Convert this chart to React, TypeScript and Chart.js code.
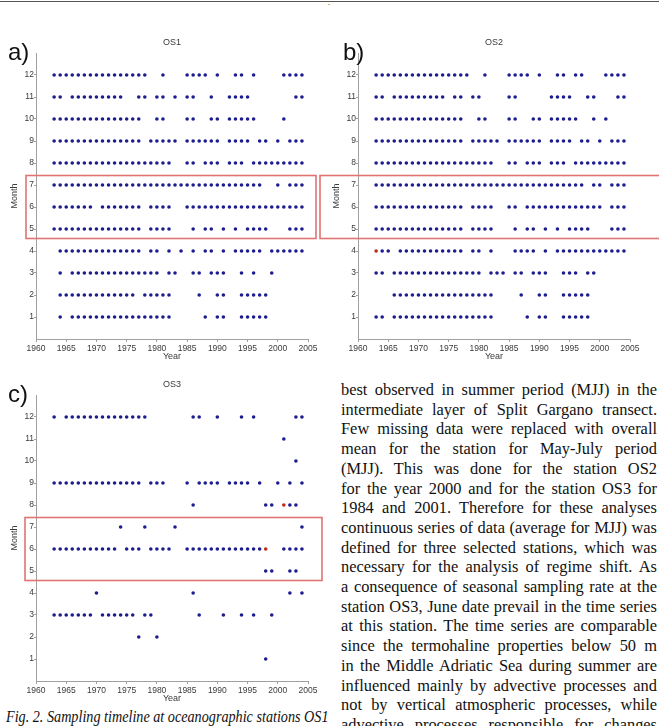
import React, { useEffect, useRef } from 'react';
import { Chart, registerables } from 'chart.js';

Chart.register(...registerables);

// ---- axis ticks ----
const yearTicks = [1960, 1965, 1970, 1975, 1980, 1985, 1990, 1995, 2000, 2005];
const monthTicks = [1, 2, 3, 4, 5, 6, 7, 8, 9, 10, 11, 12];

// ---- OS1: sampled years per month ----
const os1M1 = [1964, 1966, 1967, 1968, 1969, 1970, 1971, 1972, 1973, 1974, 1975, 1976, 1977, 1978, 1979, 1980, 1981, 1982, 1988, 1990, 1991, 1994, 1995, 1996, 1997, 1998];
const os1M2 = [1964, 1965, 1966, 1967, 1968, 1969, 1970, 1971, 1972, 1973, 1974, 1975, 1976, 1978, 1979, 1980, 1981, 1982, 1987, 1990, 1991, 1994, 1995, 1996, 1997, 1998];
const os1M3 = [1964, 1966, 1967, 1968, 1969, 1970, 1971, 1972, 1973, 1974, 1975, 1976, 1977, 1978, 1979, 1980, 1982, 1983, 1986, 1987, 1989, 1990, 1991, 1994, 1996, 1999];
const os1M4 = [1964, 1965, 1966, 1967, 1968, 1969, 1970, 1971, 1972, 1973, 1974, 1975, 1976, 1977, 1979, 1980, 1982, 1984, 1986, 1988, 1989, 1991, 1993, 1994, 1995, 1996, 1997, 1999, 2000, 2001, 2002, 2003, 2004];
const os1M5 = [1963, 1964, 1965, 1966, 1967, 1968, 1969, 1970, 1971, 1972, 1973, 1974, 1975, 1976, 1977, 1979, 1980, 1981, 1982, 1986, 1988, 1989, 1991, 1993, 1995, 1996, 1997, 1998, 2002, 2003, 2004];
const os1M6 = [1963, 1964, 1965, 1966, 1967, 1968, 1969, 1971, 1972, 1973, 1974, 1975, 1976, 1977, 1979, 1980, 1981, 1982, 1985, 1986, 1987, 1988, 1989, 1990, 1991, 1992, 1993, 1994, 1995, 1996, 1997, 1998, 1999, 2000, 2001, 2002, 2003, 2004];
const os1M7 = [1963, 1964, 1965, 1966, 1967, 1968, 1969, 1970, 1971, 1972, 1973, 1974, 1975, 1976, 1977, 1978, 1979, 1980, 1981, 1982, 1983, 1984, 1985, 1986, 1987, 1988, 1989, 1990, 1991, 1992, 1993, 1994, 1995, 1996, 1997, 2000, 2002, 2003, 2004];
const os1M8 = [1963, 1964, 1965, 1966, 1967, 1968, 1969, 1970, 1971, 1972, 1973, 1974, 1975, 1976, 1977, 1978, 1979, 1980, 1981, 1982, 1985, 1986, 1988, 1989, 1990, 1992, 1993, 1994, 1996, 1997, 1998, 1999, 2000, 2001, 2002, 2003, 2004];
const os1M9 = [1963, 1964, 1965, 1966, 1967, 1968, 1969, 1970, 1971, 1972, 1973, 1974, 1975, 1976, 1977, 1979, 1980, 1981, 1982, 1983, 1985, 1986, 1987, 1988, 1989, 1990, 1992, 1993, 1994, 1995, 1997, 1998, 2000, 2002, 2003, 2004];
const os1M10 = [1963, 1964, 1965, 1966, 1967, 1968, 1969, 1970, 1971, 1972, 1973, 1974, 1975, 1976, 1977, 1980, 1981, 1985, 1986, 1989, 1990, 1992, 1993, 1994, 1995, 1996, 2001];
const os1M11 = [1963, 1964, 1966, 1967, 1968, 1969, 1970, 1971, 1972, 1973, 1974, 1977, 1978, 1980, 1981, 1983, 1985, 1986, 1989, 1992, 1993, 1994, 1995, 2003, 2004];
const os1M12 = [1963, 1964, 1965, 1966, 1967, 1968, 1969, 1970, 1971, 1972, 1973, 1974, 1975, 1976, 1977, 1978, 1981, 1985, 1986, 1987, 1988, 1990, 1993, 1994, 1996, 2001, 2002, 2003, 2004];
const os1Red: number[][] = [];

// ---- OS2: sampled years per month ----
const os2M1 = [1963, 1964, 1966, 1967, 1968, 1969, 1970, 1971, 1972, 1973, 1974, 1975, 1976, 1977, 1978, 1979, 1980, 1981, 1982, 1988, 1990, 1991, 1994, 1995, 1996, 1997, 1998];
const os2M2 = [1966, 1967, 1968, 1969, 1970, 1971, 1972, 1973, 1974, 1975, 1976, 1977, 1978, 1979, 1980, 1981, 1982, 1987, 1990, 1991, 1994, 1995, 1996, 1997, 1998];
const os2M3 = [1963, 1964, 1966, 1967, 1968, 1969, 1970, 1971, 1972, 1973, 1974, 1975, 1976, 1977, 1978, 1979, 1980, 1982, 1983, 1984, 1986, 1987, 1989, 1990, 1991, 1994, 1995, 1996, 1998, 1999];
const os2M4 = [1964, 1965, 1967, 1968, 1969, 1970, 1971, 1972, 1973, 1974, 1975, 1976, 1977, 1979, 1980, 1982, 1986, 1987, 1988, 1989, 1991, 1993, 1994, 1995, 1996, 1997, 1998, 1999, 2000, 2001, 2002, 2003, 2004];
const os2M5 = [1963, 1964, 1965, 1966, 1967, 1968, 1969, 1970, 1971, 1972, 1973, 1974, 1975, 1976, 1977, 1979, 1980, 1981, 1982, 1986, 1988, 1989, 1991, 1993, 1995, 1996, 1997, 1998, 2002, 2003, 2004];
const os2M6 = [1963, 1964, 1965, 1966, 1967, 1968, 1969, 1970, 1971, 1972, 1973, 1974, 1975, 1976, 1977, 1979, 1980, 1981, 1982, 1985, 1986, 1988, 1989, 1990, 1991, 1992, 1993, 1994, 1995, 1996, 1997, 1998, 1999, 2000, 2002, 2003, 2004];
const os2M7 = [1963, 1964, 1965, 1966, 1967, 1968, 1969, 1970, 1971, 1972, 1973, 1974, 1975, 1976, 1977, 1978, 1979, 1980, 1981, 1982, 1983, 1984, 1985, 1986, 1987, 1988, 1989, 1990, 1991, 1992, 1993, 1994, 1995, 1996, 1997, 1999, 2000, 2002, 2003, 2004];
const os2M8 = [1963, 1964, 1965, 1966, 1967, 1968, 1969, 1970, 1971, 1972, 1973, 1974, 1975, 1976, 1977, 1978, 1979, 1980, 1981, 1982, 1985, 1986, 1988, 1989, 1990, 1992, 1993, 1994, 1996, 1997, 1998, 1999, 2000, 2001, 2002, 2003, 2004];
const os2M9 = [1963, 1964, 1965, 1966, 1967, 1968, 1969, 1970, 1971, 1972, 1973, 1974, 1975, 1976, 1977, 1979, 1980, 1981, 1982, 1983, 1985, 1986, 1987, 1988, 1989, 1990, 1992, 1993, 1994, 1995, 1997, 1998, 2000, 2002, 2003, 2004];
const os2M10 = [1963, 1964, 1965, 1966, 1967, 1968, 1969, 1970, 1971, 1972, 1973, 1974, 1975, 1976, 1977, 1980, 1981, 1985, 1986, 1989, 1990, 1992, 1993, 1994, 1995, 1996, 1999, 2001];
const os2M11 = [1963, 1964, 1966, 1967, 1968, 1969, 1970, 1971, 1972, 1973, 1974, 1976, 1977, 1979, 1980, 1985, 1986, 1992, 1993, 1994, 1995, 1998, 1999, 2003, 2004];
const os2M12 = [1963, 1964, 1965, 1966, 1967, 1968, 1969, 1970, 1971, 1972, 1973, 1974, 1975, 1976, 1977, 1978, 1981, 1985, 1986, 1987, 1988, 1990, 1993, 1994, 1996, 1997, 2001, 2002, 2003, 2004];
const os2Red = [[1963, 4]];

// ---- OS3: sampled years per month ----
const os3M1 = [1998];
const os3M2 = [1977, 1980];
const os3M3 = [1963, 1964, 1965, 1966, 1967, 1968, 1969, 1971, 1972, 1973, 1974, 1975, 1976, 1978, 1979, 1987, 1991, 1994, 1996, 1999];
const os3M4 = [1970, 1986, 2002, 2004];
const os3M5 = [1998, 1999, 2002, 2003];
const os3M6 = [1963, 1964, 1965, 1966, 1967, 1968, 1969, 1970, 1971, 1972, 1973, 1975, 1976, 1977, 1979, 1980, 1981, 1982, 1985, 1986, 1987, 1988, 1989, 1990, 1991, 1992, 1993, 1994, 1995, 1996, 1997, 2001, 2002, 2003, 2004];
const os3M7 = [1974, 1978, 1983, 2004];
const os3M8 = [1986, 1998, 1999, 2002, 2003];
const os3M9 = [1963, 1964, 1965, 1966, 1967, 1968, 1969, 1970, 1971, 1972, 1973, 1974, 1975, 1976, 1977, 1979, 1980, 1981, 1985, 1987, 1988, 1989, 1990, 1992, 1993, 1994, 1995, 1997, 2000, 2002, 2004];
const os3M10 = [2003];
const os3M11 = [2001];
const os3M12 = [1963, 1965, 1966, 1967, 1968, 1969, 1970, 1971, 1972, 1973, 1974, 1975, 1976, 1977, 1978, 1986, 1987, 1990, 1994, 1996, 2003, 2004];
const os3Red = [[1998, 6], [2001, 8]];

const os1Rows = [os1M1, os1M2, os1M3, os1M4, os1M5, os1M6, os1M7, os1M8, os1M9, os1M10, os1M11, os1M12];
const os2Rows = [os2M1, os2M2, os2M3, os2M4, os2M5, os2M6, os2M7, os2M8, os2M9, os2M10, os2M11, os2M12];
const os3Rows = [os3M1, os3M2, os3M3, os3M4, os3M5, os3M6, os3M7, os3M8, os3M9, os3M10, os3M11, os3M12];

// highlighted May-July band
const bandTop = 7.45;
const bandBottom = 4.6;

const paragraph = [
  'best observed in summer period (MJJ) in the',
  'intermediate layer of Split Gargano transect.',
  'Few missing data were replaced with overall',
  'mean for the station for May-July period',
  '(MJJ). This was done for the station OS2',
  'for the year 2000 and for the station OS3 for',
  '1984 and 2001. Therefore for these analyses',
  'continuous series of data (average for MJJ) was',
  'defined for three selected stations, which was',
  'necessary for the analysis of regime shift. As',
  'a consequence of seasonal sampling rate at the',
  'station OS3, June date prevail in the time series',
  'at this station. The time series are comparable',
  'since the termohaline properties below 50 m',
  'in the Middle Adriatic Sea during summer are',
  'influenced mainly by advective processes and',
  'not by vertical atmospheric processes, while',
  'advective processes responsible for changes',
];
const caption = 'Fig. 2. Sampling timeline at oceanographic stations OS1';

const BLUE = '#1c1c8e';
const RED = '#c0281e';
const AXIS = '#a0a0a0';
const LABEL = '#3a3a3a';
const SANS = 'Liberation Sans, Arial, sans-serif';
const SERIF = '"Liberation Serif", "Times New Roman", serif';

type PanelProps = {
  left: number; top: number; width: number; height: number;
  title: string; rows: number[][]; red: number[][];
  yAxisWidth: number; rightPad: number; boxLeft: number; boxRight: number;
};

function Panel(p: PanelProps) {
  const ref = useRef<HTMLCanvasElement>(null);
  useEffect(() => {
    const blue = p.rows.flatMap((yrs, i) => yrs.map((yr) => ({ x: yr, y: monthTicks[i] })));
    const redPts = p.red.map(([yr, m]) => ({ x: yr, y: m }));
    const decor = {
      id: 'decor',
      afterDraw(chart: any) {
        const { ctx, chartArea, scales } = chart;
        const ys = scales.y;
        ctx.save();
        ctx.fillStyle = LABEL;
        ctx.font = `9px ${SANS}`;
        ctx.textAlign = 'center';
        ctx.textBaseline = 'middle';
        ctx.fillText(p.title, (chartArea.left + chartArea.right) / 2, chartArea.top - 10);
        ctx.fillText('Year', (chartArea.left + chartArea.right) / 2, chartArea.bottom + 18);
        ctx.translate(chartArea.left - 21, (chartArea.top + chartArea.bottom) / 2);
        ctx.rotate(-Math.PI / 2);
        ctx.fillText('Month', 0, 0);
        ctx.restore();
        ctx.save();
        ctx.strokeStyle = '#e27373';
        ctx.lineWidth = 1.6;
        const y1 = Math.round(ys.getPixelForValue(bandTop)) + 0.5;
        const y2 = Math.round(ys.getPixelForValue(bandBottom)) + 0.5;
        ctx.strokeRect(chartArea.left + p.boxLeft, y1, chartArea.right + p.boxRight - (chartArea.left + p.boxLeft), y2 - y1);
        ctx.restore();
      },
    };
    const tickFont = { family: SANS, size: 8.5 };
    const chart = new Chart(ref.current!, {
      type: 'scatter',
      data: {
        datasets: [
          { data: blue, backgroundColor: BLUE, borderWidth: 0, pointRadius: 1.8, pointHoverRadius: 1.8 },
          { data: redPts, backgroundColor: RED, borderWidth: 0, pointRadius: 1.8, pointHoverRadius: 1.8 },
        ],
      },
      options: {
        responsive: false,
        animation: false,
        devicePixelRatio: 1,
        events: [],
        layout: { padding: { top: 23, right: p.rightPad, bottom: 0, left: 0 } },
        plugins: { legend: { display: false }, tooltip: { enabled: false }, title: { display: false } },
        scales: {
          x: {
            type: 'linear', min: 1960, max: 2005,
            afterBuildTicks: (s: any) => { s.ticks = yearTicks.map((v) => ({ value: v })); },
            afterFit: (s: any) => { s.height = 25; },
            ticks: { font: tickFont, color: LABEL, padding: 2, maxRotation: 0, autoSkip: false, callback: (v: any) => String(v) },
            grid: { drawOnChartArea: false, tickLength: 3, color: AXIS },
            border: { color: AXIS },
          },
          y: {
            type: 'linear', min: 0, max: 13,
            afterBuildTicks: (s: any) => { s.ticks = monthTicks.map((v) => ({ value: v })); },
            afterFit: (s: any) => { s.width = p.yAxisWidth; },
            ticks: { font: tickFont, color: LABEL, padding: 0, autoSkip: false, callback: (v: any) => String(v) },
            grid: { drawOnChartArea: false, tickLength: 2, color: AXIS },
            border: { color: AXIS },
          },
        },
      },
      plugins: [decor],
    });
    return () => chart.destroy();
  }, []);
  return (
    <canvas
      ref={ref}
      width={p.width}
      height={p.height}
      style={{ position: 'absolute', left: p.left, top: p.top, width: p.width, height: p.height }}
    />
  );
}

const letterStyle: React.CSSProperties = {
  position: 'absolute', fontFamily: SANS, fontSize: 24, lineHeight: '24px', color: '#111',
};

export default function App() {
  return (
    <div style={{ position: 'absolute', left: 0, top: 0, width: 659, height: 726, overflow: 'hidden', background: '#fff' }}>
      <div style={{ position: 'absolute', left: 0, top: 1, width: 659, borderTop: '1px solid #555' }} />
      <div style={{ position: 'absolute', left: 328, top: -2, fontSize: 8, fontFamily: SERIF }}>.</div>
      <Panel left={0} top={30} width={320} height={334} title="OS1" rows={os1Rows} red={os1Red}
        yAxisWidth={36} rightPad={12} boxLeft={-10} boxRight={8} />
      <Panel left={318} top={30} width={341} height={334} title="OS2" rows={os2Rows} red={os2Red}
        yAxisWidth={40} rightPad={29} boxLeft={-38} boxRight={40} />
      <Panel left={0} top={372} width={330} height={334} title="OS3" rows={os3Rows} red={os3Red}
        yAxisWidth={36} rightPad={22} boxLeft={-11} boxRight={14} />
      <div style={{ ...letterStyle, left: 8, top: 40 }}>a)</div>
      <div style={{ ...letterStyle, left: 343, top: 40 }}>b)</div>
      <div style={{ ...letterStyle, left: 8, top: 382 }}>c)</div>
      <div style={{ position: 'absolute', left: 341, top: 380, width: 316, fontFamily: SERIF, fontSize: 16.4, lineHeight: '19.7px', color: '#111' }}>
        {paragraph.map((line, i) => (
          <div key={i} style={{ textAlign: 'justify', textAlignLast: 'justify' as any }}>{line}</div>
        ))}
      </div>
      <div style={{ position: 'absolute', left: 6, top: 707, fontFamily: SERIF, fontStyle: 'italic', fontSize: 16.4, lineHeight: '19.7px', color: '#111', whiteSpace: 'nowrap', transform: 'scaleX(0.865)', transformOrigin: '0 0' }}>
        {caption}
      </div>
    </div>
  );
}
